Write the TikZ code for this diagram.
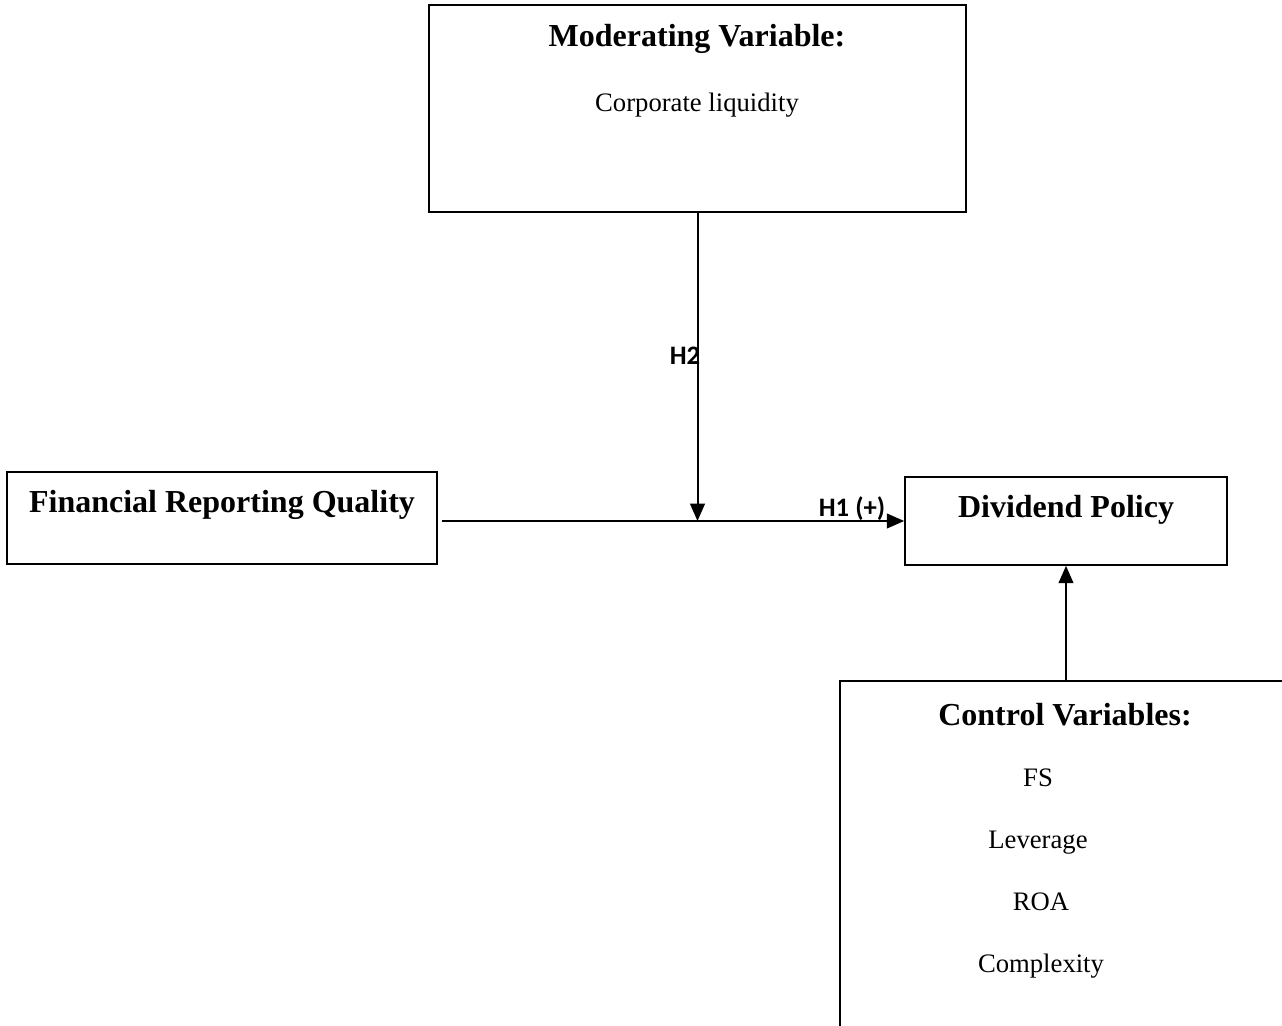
\documentclass[tikz,border=0pt]{standalone}
\usepackage{fontspec}
\setmainfont{Liberation Serif}
\newfontfamily\hypfont{Carlito}
\usepackage{tikz}
\usetikzlibrary{arrows.meta}
\tikzset{
    var-box/.style = {draw=black, line width=1.2pt, rectangle, inner sep=0pt},
    var-title/.style = {inner sep=0pt, font=\fontsize{24}{28}\selectfont\bfseries},
    var-item/.style = {inner sep=0pt, font=\fontsize{20}{24}\selectfont},
    hyp-label/.style = {inner sep=0pt, font=\fontsize{20}{24}\selectfont\hypfont\bfseries},
    link/.style = {line width=1.5pt, -{Triangle[length=13pt,width=11pt]}},
}

\begin{document}
\begin{tikzpicture}[x=0.75pt, y=-0.75pt]
\useasboundingbox (0,0) rectangle (1282,1025);
\clip (0,0) rectangle (1282,1025);

% boxes
\node [var-box, minimum width=402.75pt, minimum height=155.25pt] (mod) at (697.5,108.5) {};
\node [var-box, minimum width=322.5pt, minimum height=69pt] (frq) at (222,518) {};
\node [var-box, minimum width=241.5pt, minimum height=66pt] (div) at (1066,521) {};
\node [var-box, minimum width=345pt, minimum height=269.25pt] (ctrl) at (1070,860.5) {};

% texts
\node [var-title] (mod-title) at (697,39) {Moderating Variable:};
\node [var-item] (mod-liq) at (697,105) {Corporate liquidity};
\node [var-title] (frq-title) at (222,505) {Financial Reporting Quality};
\node [var-title] (div-title) at (1066,510) {Dividend Policy};
\node [var-title] (ctrl-title) at (1065,715) {Control Variables:};
\node [var-item] (ctrl-fs) at (1038,778) {FS};
\node [var-item] (ctrl-lev) at (1038,843) {Leverage};
\node [var-item] (ctrl-roa) at (1041,902) {ROA};
\node [var-item] (ctrl-cx) at (1041,966) {Complexity};

% connectors
\draw [link] ([xshift=3pt]frq.east |- div.west) -- (div.west);
\draw [link] (mod.south) -- (mod.south |- div.west);
\draw [link] (ctrl.north -| div.south) -- (div.south);

\node [hyp-label] (h2) at (685,356) {H2};
\node [hyp-label] (h1) at (852,509) {H1 (+)};
\end{tikzpicture}
\end{document}
